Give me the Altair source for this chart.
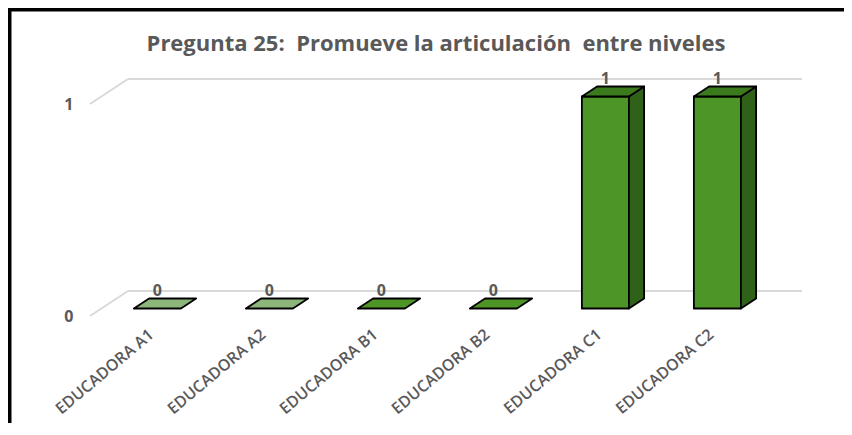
import json
import altair as alt
import pandas as pd

# ---------------- data ----------------
titulo = "Pregunta 25:\u00a0 Promueve la articulación\u00a0 entre niveles"
educadoras = ["EDUCADORA A1", "EDUCADORA A2", "EDUCADORA B1",
              "EDUCADORA B2", "EDUCADORA C1", "EDUCADORA C2"]
respuestas = [0, 0, 0, 0, 1, 1]
grupos = [n.split()[-1][0] for n in educadoras]   # A, A, B, B, C, C
y_ticks = [0, 1]

# ---------------- oblique 3D geometry (data units) ----------------
PLOT_W, PLOT_H = 712, 237
STEP_PX, UNIT_PX = 112, 212
XMAX, YMAX = PLOT_W / STEP_PX, PLOT_H / UNIT_PX
KX, KY = 38 / STEP_PX, 25 / UNIT_PX      # depth shift per unit depth
D0, D1 = 0.3, 0.7                       # bar depth span
HALF = 0.21                              # half bar width (category units)

grid_rows = []
for v in y_ticks:
    grid_rows.append({"x": KX, "x2": XMAX, "y": v + KY, "y2": v + KY})
    grid_rows.append({"x": 0.0, "x2": KX, "y": v, "y2": v + KY})
grid_df = pd.DataFrame(grid_rows)

face_rows = []
dx, dy = KX * (D1 - D0), KY * (D1 - D0)
for i, (v, g) in enumerate(zip(respuestas, grupos)):
    a = i + 0.5 - HALF + KX * D0
    b = i + 0.5 + HALF + KX * D0
    fy = KY * D0
    if v > 0:
        fid = f"{i}-front"
        face_rows += [
            {"id": fid, "k": "frente", "x": a, "y": v + fy, "y2": fy},
            {"id": fid, "k": "frente", "x": b, "y": v + fy, "y2": fy},
        ]
        sid = f"{i}-side"
        face_rows += [
            {"id": sid, "k": "lado", "x": b, "y": v + fy, "y2": fy},
            {"id": sid, "k": "lado", "x": b + dx, "y": v + fy + dy, "y2": fy + dy},
        ]
    tid = f"{i}-top"
    tk = "tapa_" + g
    face_rows += [
        {"id": tid, "k": tk, "x": a, "y": v + fy, "y2": v + fy},
        {"id": tid, "k": tk, "x": a + dx, "y": v + fy + dy, "y2": v + fy},
        {"id": tid, "k": tk, "x": b, "y": v + fy + dy, "y2": v + fy},
        {"id": tid, "k": tk, "x": b + dx, "y": v + fy + dy, "y2": v + fy + dy},
    ]
faces_df = pd.DataFrame(face_rows)

labels_df = pd.DataFrame({
    "x": [i + 0.5 + KX * D0 for i in range(len(respuestas))],
    "y": [v + KY * D1 for v in respuestas],
    "t": [str(v) for v in respuestas],
})

# ---------------- scales / axes ----------------
GRAY = "#595959"
FONT = "Open Sans"
x_scale = alt.Scale(domain=[0, XMAX], nice=False, zero=False)
y_scale = alt.Scale(domain=[0, YMAX], nice=False, zero=False)
label_expr = json.dumps(educadoras) + "[round(datum.value - 0.5)]"
x_axis = alt.Axis(values=[i + 0.5 for i in range(len(educadoras))],
                  labelExpr=label_expr, labelAngle=-40, labelAlign="right",
                  labelBaseline="top", labelPadding=10, ticks=False,
                  domain=False, grid=False, title=None, labelFont=FONT,
                  labelFontSize=16, labelFontWeight=600, labelColor=GRAY,
                  labelOverlap=False)
y_axis = alt.Axis(values=y_ticks, format="d", ticks=False, domain=False,
                  grid=False, title=None, labelPadding=17, labelFont=FONT,
                  labelFontSize=16, labelFontWeight="bold", labelColor=GRAY)

X = lambda f: alt.X(f, type="quantitative", scale=x_scale, axis=x_axis)
Y = lambda f: alt.Y(f, type="quantitative", scale=y_scale, axis=y_axis, stack=None)

grid = alt.Chart(grid_df).mark_rule(color="#D9D9D9", strokeWidth=2).encode(
    x=X("x"), x2="x2", y=Y("y"), y2="y2")

faces = alt.Chart(faces_df).mark_area(
    stroke="black", strokeWidth=1.8, strokeJoin="round", opacity=1,
    interpolate="linear").encode(
    x=X("x"), y=Y("y"), y2="y2", detail="id:N",
    color=alt.Color("k:N", legend=None, scale=alt.Scale(
        domain=["frente", "lado", "tapa_A", "tapa_B", "tapa_C"],
        range=["#4E9528", "#2F6119", "#8DB67A", "#4E9528", "#3C7A1E"])),
)

vals = alt.Chart(labels_df).mark_text(
    font=FONT, fontSize=16, fontWeight="bold", color=GRAY, dy=-8,
    baseline="middle").encode(x=X("x"), y=Y("y"), text="t:N")

title = alt.Chart(pd.DataFrame({"t": [titulo]})).mark_text(
    font=FONT, fontSize=22, fontWeight="bold", color=GRAY,
    baseline="alphabetic", align="center").encode(
    x=alt.value(436 - 90), y=alt.value(51 - 79), text="t:N")

BOTTOM = 107
frame_v = alt.Chart(pd.DataFrame({"a": [0]})).mark_rule(
    color="black", strokeWidth=3.5).encode(
    x=alt.value(-80.25), y=alt.value(-71), y2=alt.value(PLOT_H + BOTTOM))
frame_h = alt.Chart(pd.DataFrame({"a": [0]})).mark_rule(
    color="black", strokeWidth=3.5).encode(
    y=alt.value(-69.25), x=alt.value(-82), x2=alt.value(PLOT_W + 42))

chart = alt.layer(grid, faces, vals, title, frame_v, frame_h).properties(
    width=PLOT_W, height=PLOT_H,
    autosize=alt.AutoSizeParams(type="none"),
    padding={"left": 82, "top": 71, "right": 42, "bottom": BOTTOM},
).configure_view(stroke=None)

chart.save("out.html", embed_options={"renderer": "svg", "actions": False})
